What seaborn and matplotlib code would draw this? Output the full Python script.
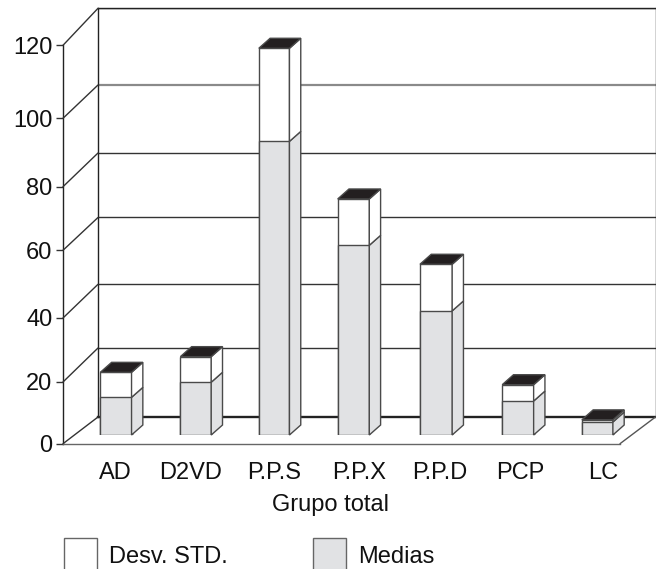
import numpy as np
import matplotlib
matplotlib.use('Agg')
import matplotlib.pyplot as plt
import seaborn as sns
from matplotlib.lines import Line2D
from matplotlib.patches import Patch, Polygon
from matplotlib.transforms import Affine2D, IdentityTransform

grupos = ['AD', 'D2VD', 'P.P.S', 'P.P.X', 'P.P.D', 'PCP', 'LC']
medias = [12.2, 17.1, 90.7, 58.9, 39.5, 11.0, 4.2]
desv_std = [8.1, 8.1, 26.1, 14.5, 13.8, 5.3, 0.7]
niveles = [0, 20, 40, 60, 80, 100, 120]

# the printed axes are not quite regular, so each plane gets its own scale (in px)
px_frente = [0, 61.7, 125.7, 193.4, 257, 325.4, 398.4]
px_pared = [0, 69, 132.7, 199.5, 264, 332, 408.7]
lugares = [-0.5, 0, 1, 2, 3, 4, 5, 6, 6.5]
px_lugares = [76, 116, 196, 274, 353, 436, 518, 597, 637]

W, H = 656, 569
GRIS = '#e1e2e4'
NEGRO = '#231f20'
BORDE = '#4a4a4a'
ANCHO = 0.39
DX, DY = 11.3, 10

sns.set_style('white')
plt.rcParams['font.family'] = ['Liberation Sans', 'DejaVu Sans']
plt.rcParams['font.size'] = 17


def caja(x0, x1, arriba, abajo):
    return [x0 / W, 1 - abajo / H, (x1 - x0) / W, (abajo - arriba) / H]


def escala(ax, px):
    ax.set_yscale('function', functions=(lambda v: np.interp(v, niveles, px),
                                         lambda p: np.interp(p, px, niveles)))
    ax.set_ylim(0, 120)
    ax.set_yticks(niveles)
    ax.minorticks_off()


fig = plt.figure(figsize=(W / 100, H / 100), dpi=100)

# pared del fondo
pared = fig.add_axes(caja(98, 655.5, 8.3, 417))
escala(pared, px_pared)
pared.set_xticks([])
pared.set_yticklabels([])
pared.tick_params(axis='y', length=0)
pared.grid(True, axis='y', color='#333333', linewidth=1)
pared.get_ygridlines()[5].set_color('#8a8a8a')
pared.get_ygridlines()[5].set_linewidth(1.6)
for lado in pared.spines.values():
    lado.set_color('#222222')
    lado.set_linewidth(1)
pared.spines['bottom'].set_linewidth(1.7)

# plano de adelante, con el eje de valores
frente = fig.add_axes(caja(63, 620, 45.3, 443.7))
frente.patch.set_visible(False)
escala(frente, px_frente)
frente.set_xticks([])
frente.tick_params(axis='y', length=5, width=1, pad=2.5, color='#333333', left=True, labelcolor='#111111')
frente.spines['top'].set_visible(False)
frente.spines['right'].set_visible(False)
frente.spines['left'].set_color('#222222')
frente.spines['bottom'].set_color('#666666')
frente.spines['left'].set_linewidth(1)
frente.spines['bottom'].set_linewidth(1)

# barras, a media profundidad del piso
barras = fig.add_axes(caja(75.9, 637.3, 36.6, 435))
barras.patch.set_visible(False)
total = np.array(medias) + np.array(desv_std)
sns.barplot(x=grupos, y=total, color='white', saturation=1, width=ANCHO,
            edgecolor=BORDE, linewidth=1, ax=barras)
sns.barplot(x=grupos, y=medias, color=GRIS, saturation=1, width=ANCHO,
            edgecolor=BORDE, linewidth=1, ax=barras)
escala(barras, px_frente)
barras.set_xscale('function', functions=(lambda v: np.interp(v, lugares, px_lugares),
                                         lambda p: np.interp(p, px_lugares, lugares)))
barras.set_xlim(-0.5, 6.5)
barras.set_xticks(range(len(grupos)), grupos)
barras.minorticks_off()
barras.set_yticks([])
barras.set_ylabel('')
barras.set_xlabel('Grupo total', x=0.454, labelpad=7, color='#111111')
barras.tick_params(axis='x', length=0, pad=19.3, labelcolor='#111111')
sns.despine(ax=barras, left=True, bottom=True)

nudges = [-1, -5, 0, 6, 4, 2, 6]
for etiqueta, n in zip(barras.get_xticklabels(), nudges):
    etiqueta.set_transform(etiqueta.get_transform() + Affine2D().translate(n, 0))


def cara(puntos, color):
    barras.add_patch(Polygon(puntos, closed=True, facecolor=color, edgecolor=BORDE, linewidth=1,
                             transform=IdentityTransform(), clip_on=False, zorder=4))


# caras laterales y tapa de cada barra
for i in range(len(grupos)):
    izq = barras.transData.transform((i - ANCHO / 2, 0))
    der = barras.transData.transform((i + ANCHO / 2, 0))
    med = barras.transData.transform((i, medias[i]))[1]
    top = barras.transData.transform((i, total[i]))[1]
    base = izq[1]
    cara([(der[0], base), (der[0], med), (der[0] + DX, med + DY), (der[0] + DX, base + DY)], GRIS)
    cara([(der[0], med), (der[0], top), (der[0] + DX, top + DY), (der[0] + DX, med + DY)], 'white')
    cara([(izq[0], top), (der[0], top), (der[0] + DX, top + DY), (izq[0] + DX, top + DY)], NEGRO)

# lineas oblicuas entre el eje y la pared
inv = fig.transFigure.inverted()
for v in niveles:
    a = inv.transform((frente.bbox.x0, frente.transData.transform((0, v))[1]))
    b = inv.transform((pared.bbox.x0, pared.transData.transform((0, v))[1]))
    fig.add_artist(Line2D([a[0], b[0]], [a[1], b[1]], color='#333333', linewidth=1))
a = inv.transform((frente.bbox.x1, frente.bbox.y0))
b = inv.transform((pared.bbox.x1, pared.bbox.y0))
fig.add_artist(Line2D([a[0], b[0]], [a[1], b[1]], color='#555555', linewidth=1))

handles = [Patch(facecolor='white', edgecolor='#666666', linewidth=1, label='Desv. STD.'),
           Patch(facecolor=GRIS, edgecolor='#666666', linewidth=1, label='Medias')]
fig.legend(handles=handles, loc='upper left', bbox_to_anchor=(64 / W, 1 - 538 / H), ncols=2,
           frameon=False, borderpad=0, borderaxespad=0, handlelength=1.4, handleheight=1.84,
           handletextpad=0.5, columnspacing=3.63, labelcolor='#111111')

fig.savefig('out.png', dpi=100)
